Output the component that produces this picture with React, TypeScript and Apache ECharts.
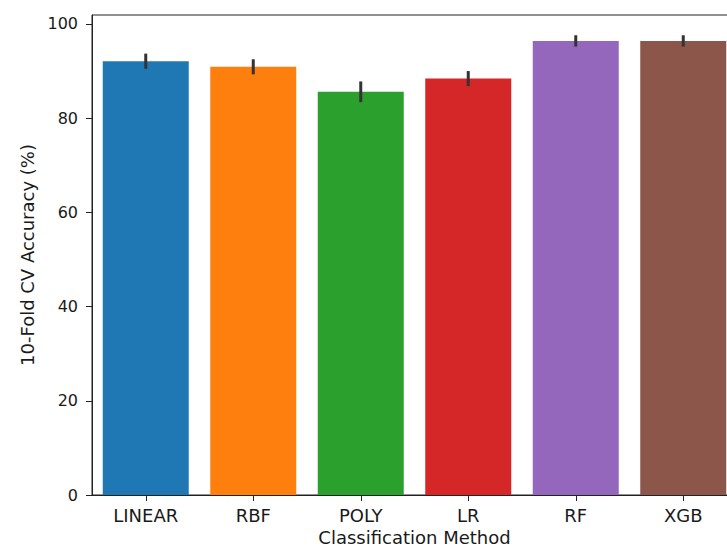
import React, { useEffect, useRef } from "react";
import * as echarts from "echarts";

const categories = ["LINEAR", "RBF", "POLY", "LR", "RF", "XGB"];
const accuracy = [92.1, 90.9, 85.6, 88.4, 96.4, 96.4];
const errors = [1.6, 1.6, 2.2, 1.6, 1.2, 1.2];
const barColors = ["#1f77b4", "#ff7f0e", "#2ca02c", "#d62728", "#9467bd", "#8c564b"];
const yTicks = [0, 20, 40, 60, 80, 100];

const FONT = "DejaVu Sans";

export default function App() {
  const ref = useRef<HTMLDivElement>(null);
  useEffect(() => {
    if (!ref.current) return;
    const chart = echarts.init(ref.current, null, { renderer: "svg" });
    chart.setOption({
      animation: false,
      backgroundColor: "#ffffff",
      grid: {
        left: 92,
        top: 15,
        width: 645,
        height: 480,
        show: true,
        borderColor: "#222",
        borderWidth: 1,
        backgroundColor: "transparent",
        outerBoundsMode: "none",
        containLabel: false,
      },
      xAxis: {
        type: "category",
        data: categories,
        boundaryGap: true,
        name: "Classification Method",
        nameLocation: "middle",
        nameGap: 32,
        nameTextStyle: { fontFamily: FONT, fontSize: 18, color: "#1a1a1a" },
        axisLine: { show: true, lineStyle: { color: "#222", width: 1 } },
        axisTick: { show: true, alignWithLabel: true, length: 6, lineStyle: { color: "#222" } },
        axisLabel: { fontFamily: FONT, fontSize: 18, color: "#1a1a1a", margin: 11 },
        splitLine: { show: false },
      },
      yAxis: {
        type: "value",
        min: 0,
        max: 101.9,
        interval: 20,
        name: "10-Fold CV Accuracy (%)",
        nameLocation: "middle",
        nameGap: 56,
        nameTextStyle: { fontFamily: FONT, fontSize: 18, color: "#1a1a1a" },
        axisLine: { show: true, lineStyle: { color: "#222", width: 1 } },
        axisTick: {
          show: true,
          length: 6,
          lineStyle: { color: "#222" },
          customValues: yTicks,
        },
        axisLabel: {
          fontFamily: FONT,
          fontSize: 16,
          color: "#1a1a1a",
          margin: 14,
          customValues: yTicks,
        },
        splitLine: { show: false },
      },
      series: [
        {
          type: "bar",
          barWidth: "80%",
          data: accuracy.map((v, i) => ({ value: v, itemStyle: { color: barColors[i] } })),
        },
        {
          type: "custom",
          data: accuracy.map((v, i) => [i, v - errors[i], v + errors[i]]),
          z: 10,
          renderItem: (params: any, api: any) => {
            const i = api.value(0);
            const lo = api.coord([i, api.value(1)]);
            const hi = api.coord([i, api.value(2)]);
            return {
              type: "line",
              shape: { x1: lo[0], y1: lo[1], x2: hi[0], y2: hi[1] },
              style: { stroke: "#333333", lineWidth: 3 },
            };
          },
        },
      ],
    });
    return () => chart.dispose();
  }, []);
  return (
    <div
      ref={ref}
      style={{ position: "fixed", left: 0, top: 0, width: 727, height: 548 }}
    />
  );
}
